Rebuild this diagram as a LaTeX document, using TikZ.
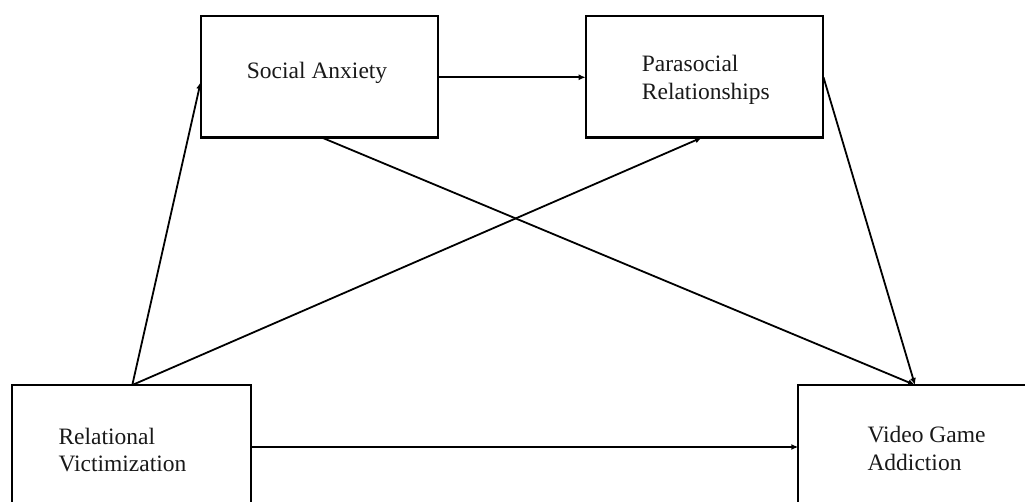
\documentclass[tikz,border=0pt]{standalone}
\usepackage{fontspec}
\setmainfont{Liberation Serif}
\usetikzlibrary{arrows.meta}
\begin{document}
\begin{tikzpicture}[x=1pt,y=-1pt,
  box/.style={draw=black,line width=2.1pt,inner sep=0pt,outer sep=0pt,fill=none},
  lbl/.style={anchor=base west,inner sep=0pt,font=\fontsize{23.5}{28}\selectfont,text=black!90},
  conn/.style={line width=1.8pt,-{Latex[length=7pt,width=6pt]}}]
\clip (0,0) rectangle (1025,502);
\fill[white] (0,0) rectangle (1025,502);
% boxes
\node[box,minimum width=237.6pt,minimum height=121.5pt] (SA) at (319.5,76.75) {};
\node[box,minimum width=237.6pt,minimum height=121.5pt] (PR) at (704.5,76.75) {};
\node[box,minimum width=238.4pt,minimum height=140pt] (RV) at (131.5,455) {};
\node[box,minimum width=250pt,minimum height=140pt] (VGA) at (923.3,455) {};
% texts
\node[lbl] (t1) at (246.7,78.3) {Social Anxiety};
\node[lbl] (t2) at (641.7,71.7) {Parasocial};
\node[lbl] (t3) at (641.7,100) {Relationships};
\node[lbl] (t4) at (58.3,444) {Relational};
\node[lbl] (t5) at (58.3,471.7) {Victimization};
\node[lbl] (t6) at (867.3,442.7) {Video Game};
\node[lbl] (t7) at (867.3,470.7) {Addiction};
% connection points
\coordinate (rvtop) at (132.3,385);
\coordinate (saleft) at (200.7,82);
\coordinate (prbot) at (702,137.5);
\coordinate (saright) at (438.3,77.3);
\coordinate (prleft) at (585.7,77.3);
\coordinate (sabot) at (321.7,137.5);
\coordinate (vgatop) at (915,385);
\coordinate (prright) at (823.5,77.3);
\coordinate (rvright) at (250.7,447);
\coordinate (vgaleft) at (798.3,447);
% connectors
\draw[conn] (rvtop) -- (saleft);
\draw[conn] (rvtop) -- (prbot);
\draw[conn] (saright) -- (prleft);
\draw[conn] (sabot) -- (vgatop);
\draw[conn] (prright) -- (vgatop);
\draw[conn] (rvright) -- (vgaleft);
\end{tikzpicture}
\end{document}
